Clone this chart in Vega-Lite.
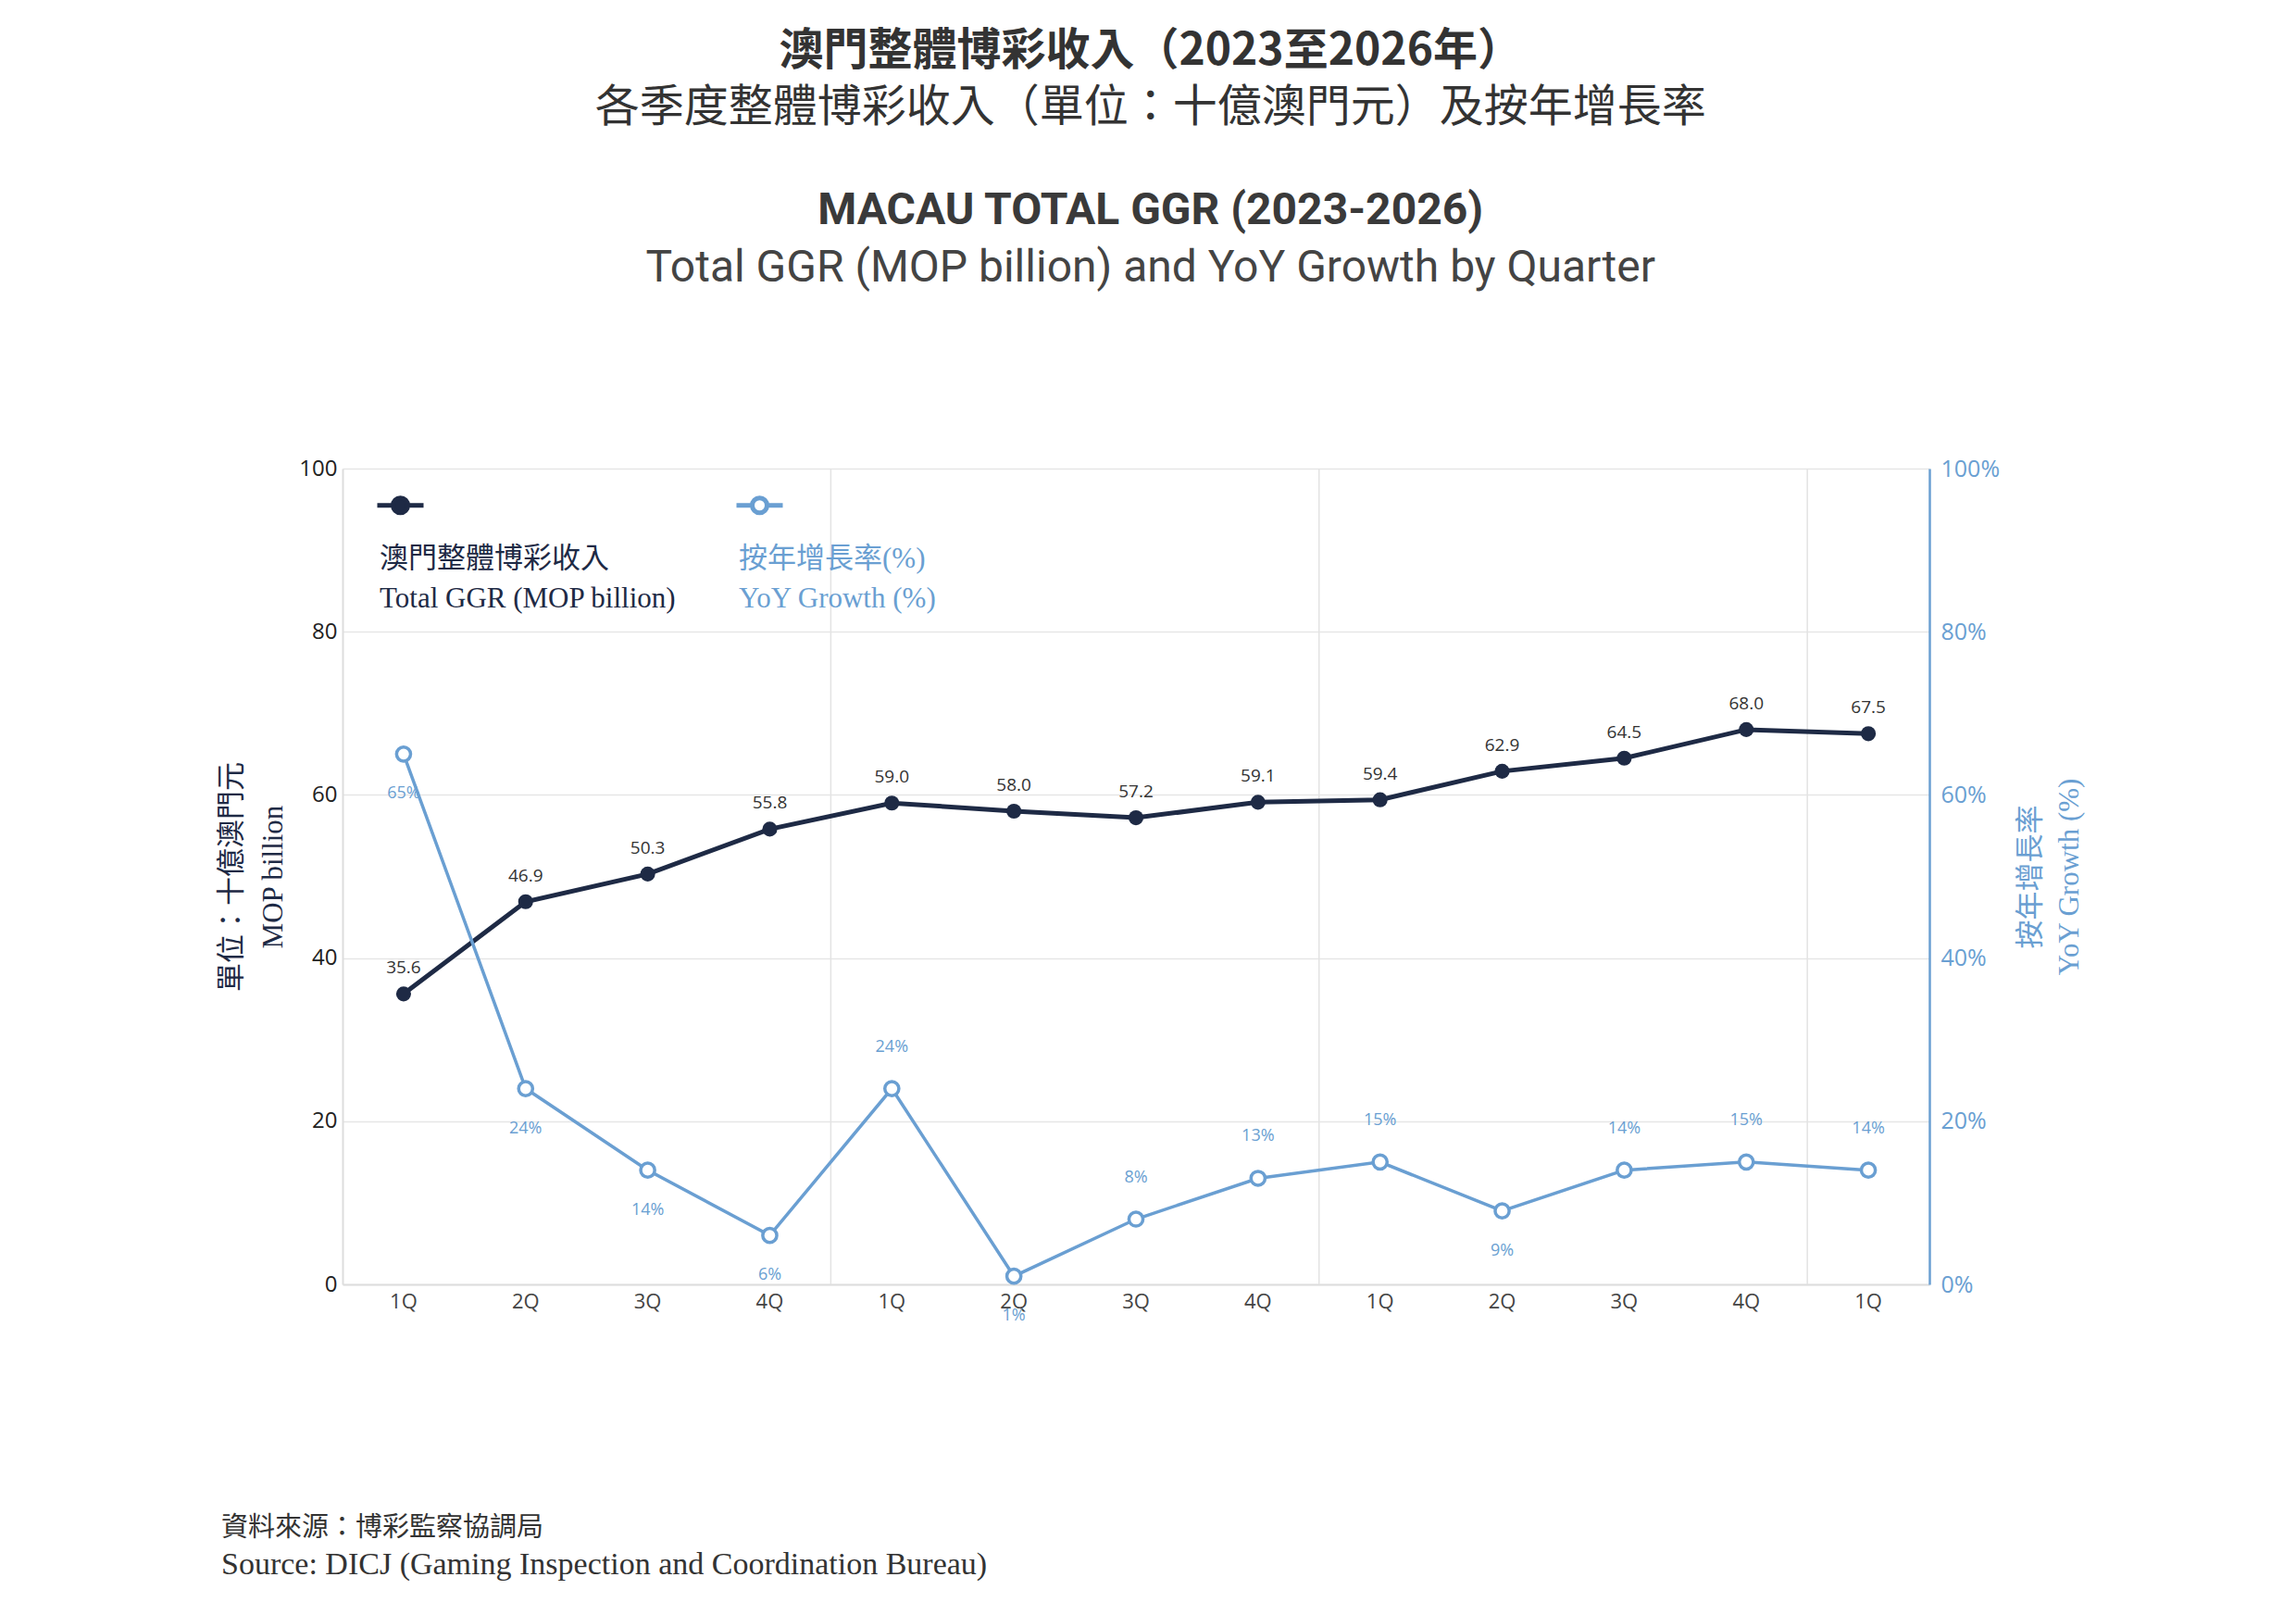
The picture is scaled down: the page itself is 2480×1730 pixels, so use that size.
{
  "$schema": "https://vega.github.io/schema/vega-lite/v6.json",
  "background": "white",
  "padding": {"left": 234, "top": 32, "right": 20, "bottom": 10},
  "title": {
    "text": "澳門整體博彩收入（2023至2026年）",
    "subtitle": "各季度整體博彩收入（單位：十億澳門元）及按年增長率",
    "anchor": "middle",
    "font": "Noto Sans CJK TC",
    "fontSize": 48,
    "fontWeight": "bold",
    "color": "#333333",
    "subtitleFont": "Noto Sans CJK TC",
    "subtitleFontSize": 48,
    "subtitleFontWeight": "normal",
    "subtitleColor": "#333333",
    "subtitlePadding": 13,
    "offset": 63
  },
  "datasets": {
    "ggr": [
      {"period": "2023-1Q", "ggr": 35.6, "yoy": 0.65},
      {"period": "2023-2Q", "ggr": 46.9, "yoy": 0.24},
      {"period": "2023-3Q", "ggr": 50.3, "yoy": 0.14},
      {"period": "2023-4Q", "ggr": 55.8, "yoy": 0.06},
      {"period": "2024-1Q", "ggr": 59.0, "yoy": 0.24},
      {"period": "2024-2Q", "ggr": 58.0, "yoy": 0.01},
      {"period": "2024-3Q", "ggr": 57.2, "yoy": 0.08},
      {"period": "2024-4Q", "ggr": 59.1, "yoy": 0.13},
      {"period": "2025-1Q", "ggr": 59.4, "yoy": 0.15},
      {"period": "2025-2Q", "ggr": 62.9, "yoy": 0.09},
      {"period": "2025-3Q", "ggr": 64.5, "yoy": 0.14},
      {"period": "2025-4Q", "ggr": 68.0, "yoy": 0.15},
      {"period": "2026-1Q", "ggr": 67.5, "yoy": 0.14}
    ]
  },
  "spacing": 205,
  "vconcat": [
    {
      "width": 1714,
      "height": 881,
      "title": {
        "text": "MACAU TOTAL GGR (2023-2026)",
        "subtitle": "Total GGR (MOP billion) and YoY Growth by Quarter",
        "frame": "bounds",
        "anchor": "middle",
        "font": "Roboto",
        "fontSize": 48,
        "fontWeight": "bold",
        "color": "#3a3a3a",
        "subtitleFont": "Roboto",
        "subtitleFontSize": 48,
        "subtitleFontWeight": "normal",
        "subtitleColor": "#444444",
        "subtitlePadding": 14,
        "offset": 180
      },
      "data": {"name": "ggr"},
      "encoding": {
        "x": {
          "field": "period",
          "type": "ordinal",
          "sort": "ascending",
          "scale": {"paddingInner": 0, "paddingOuter": 0},
          "axis": {
            "title": null,
            "labelExpr": "slice(datum.value, 5)",
            "labelAngle": 0,
            "labelFont": "Open Sans",
            "labelFontSize": 22,
            "labelColor": "#444444",
            "labelPadding": 8,
            "ticks": false,
            "domainColor": "#dddddd",
            "domainWidth": 2
          }
        }
      },
      "layer": [
        {
          "transform": [{"filter": {"field": "period", "oneOf": ["2023-4Q", "2024-4Q", "2025-4Q"]}}],
          "mark": {"type": "rule", "color": "#e3e3e3", "strokeWidth": 1.5},
          "encoding": {
            "x": {"field": "period", "type": "ordinal", "sort": "ascending", "bandPosition": 1}
          }
        },
        {
          "encoding": {
            "y": {
              "field": "ggr",
              "type": "quantitative",
              "scale": {"domain": [0, 100]},
              "axis": {
                "orient": "left",
                "values": [0, 20, 40, 60, 80, 100],
                "title": ["單位：十億澳門元", "MOP billion"],
                "titleFont": "'Liberation Serif', 'Noto Sans CJK TC'",
                "titleFontSize": 31,
                "titleFontWeight": "normal",
                "titleColor": "#1e2a45",
                "titleLineHeight": 45,
                "titlePadding": 11,
                "labelFont": "Open Sans",
                "labelFontSize": 24,
                "labelColor": "#222222",
                "labelPadding": 6,
                "ticks": false,
                "domainColor": "#dddddd",
                "domainWidth": 2,
                "grid": true,
                "gridColor": "#e6e6e6",
                "gridWidth": 1.5
              }
            }
          },
          "layer": [
            {
              "mark": {"type": "line", "strokeWidth": 5},
              "encoding": {
                "color": {
                  "datum": "GGR",
                  "type": "nominal",
                  "scale": {"domain": ["GGR", "YoY"], "range": ["#1e2a45", "#6a9fd2"]},
                  "legend": {
                    "orient": "none",
                    "legendX": 35,
                    "legendY": 12,
                    "direction": "horizontal",
                    "title": null,
                    "symbolType": "M-1,0H-0.32M0.32,0H1M-0.32,0A0.32,0.32 0 1,1 0.32,0A0.32,0.32 0 1,1 -0.32,0",
                    "symbolSize": 2500,
                    "symbolStrokeWidth": 5,
                    "labelExpr": "datum.value == 'GGR' ? ['', '澳門整體博彩收入', 'Total GGR (MOP billion)'] : ['', '按年增長率(%)', 'YoY Growth (%)']",
                    "labelFont": "'Liberation Serif', 'Noto Sans CJK TC'",
                    "labelFontSize": 31,
                    "labelBaseline": "top",
                    "labelOffset": -50,
                    "labelLimit": 0,
                    "columnPadding": 54,
                    "encode": {
                      "symbols": {"update": {"fill": {"signal": "datum.value == 'GGR' ? '#1e2a45' : '#ffffff'"}}},
                      "labels": {"update": {
                        "fill": {"signal": "datum.value == 'GGR' ? '#1e2a45' : '#6a9fd2'"},
                        "lineHeight": {"value": 43}
                      }}
                    }
                  }
                }
              }
            },
            {
              "mark": {"type": "point", "filled": true, "color": "#1e2a45", "size": 260, "opacity": 1}
            },
            {
              "mark": {"type": "text", "dy": -28, "font": "Open Sans", "fontSize": 19, "color": "#333333"},
              "encoding": {"text": {"field": "ggr", "type": "quantitative", "format": ".1f"}}
            }
          ]
        },
        {
          "encoding": {
            "y": {
              "field": "yoy",
              "type": "quantitative",
              "scale": {"domain": [0, 1]},
              "axis": {
                "orient": "right",
                "values": [0, 0.2, 0.4, 0.6, 0.8, 1],
                "format": ".0%",
                "grid": false,
                "title": ["按年增長率", "YoY Growth (%)"],
                "titleAngle": 270,
                "titleFont": "'Liberation Serif', 'Noto Sans CJK TC'",
                "titleFontSize": 31,
                "titleFontWeight": "normal",
                "titleColor": "#6a9fd2",
                "titleLineHeight": 42,
                "titlePadding": 8,
                "labelFont": "Open Sans",
                "labelFontSize": 25,
                "labelColor": "#6a9fd2",
                "labelPadding": 12,
                "ticks": false,
                "domainColor": "#6a9fd2",
                "domainWidth": 2.5
              }
            }
          },
          "layer": [
            {
              "mark": {"type": "line", "strokeWidth": 3.5},
              "encoding": {"color": {"datum": "YoY", "type": "nominal"}}
            },
            {
              "mark": {"type": "point", "filled": true, "fill": "#ffffff", "stroke": "#6a9fd2", "strokeWidth": 3.5, "size": 230, "opacity": 1}
            },
            {
              "transform": [{"filter": {"not": {"field": "period", "oneOf": ["2023-1Q", "2023-2Q", "2023-3Q", "2023-4Q", "2024-2Q", "2025-2Q"]}}}],
              "mark": {"type": "text", "dy": -45, "font": "Open Sans", "fontSize": 18, "color": "#6a9fd2"},
              "encoding": {"text": {"field": "yoy", "type": "quantitative", "format": ".0%"}}
            },
            {
              "transform": [{"filter": {"field": "period", "oneOf": ["2023-1Q", "2023-2Q", "2023-3Q", "2023-4Q", "2024-2Q", "2025-2Q"]}}],
              "mark": {"type": "text", "dy": 43, "font": "Open Sans", "fontSize": 18, "color": "#6a9fd2"},
              "encoding": {"text": {"field": "yoy", "type": "quantitative", "format": ".0%"}}
            }
          ]
        }
      ],
      "resolve": {"scale": {"y": "independent"}}
    },
    {
      "width": 1714,
      "height": 1,
      "title": {
        "text": "資料來源：博彩監察協調局",
        "subtitle": "Source: DICJ (Gaming Inspection and Coordination Bureau)",
        "anchor": "start",
        "frame": "group",
        "dx": -131,
        "font": "Noto Sans CJK TC",
        "fontSize": 29,
        "fontWeight": "normal",
        "color": "#333333",
        "subtitleFont": "Liberation Serif",
        "subtitleFontSize": 34,
        "subtitleColor": "#333333",
        "subtitlePadding": 8,
        "offset": 10
      },
      "data": {"values": []},
      "mark": "point"
    }
  ],
  "config": {
    "view": {"stroke": null},
    "font": "Open Sans"
  }
}
